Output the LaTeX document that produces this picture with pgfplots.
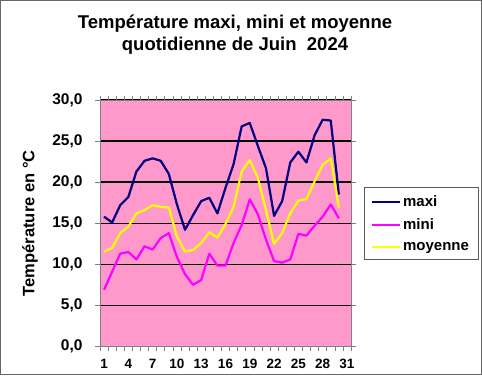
\documentclass[border=0pt]{standalone}
\usepackage{fontspec}
\setmainfont{Liberation Sans}
\usepackage{pgfplots}
\pgfplotsset{compat=1.18}
\definecolor{bgpink}{RGB}{255,153,204}
\definecolor{navy}{RGB}{0,0,128}
\definecolor{mag}{RGB}{255,0,255}
\definecolor{yel}{RGB}{255,255,0}
\definecolor{frame}{RGB}{128,128,128}
\begin{document}
\begin{tikzpicture}
\useasboundingbox (0pt,0pt) rectangle (482pt,-375pt);
\draw[frame!80!black, line width=1.2pt] (0.6pt,-0.6pt) rectangle (481.4pt,-374.4pt);
\node[align=center, font=\fontsize{18.5}{22}\selectfont\bfseries] at (235pt,-35pt) {Température maxi, mini et moyenne\\quotidienne de Juin~~2024};
\begin{axis}[
  at={(100pt,-346.5pt)}, anchor=south west,
  width=251pt, height=246.5pt, scale only axis,
  xmin=0.5, xmax=31.5, ymin=0, ymax=30,
  axis background/.style={fill=bgpink},
  axis line style={frame, line width=1pt},
  xtick={1,4,...,31},
  major x tick style={draw=none},
  minor xtick={0.5,1.5,...,31.5},
  minor tick length=4pt,
  minor x tick style={frame, line width=0.6pt},
  ytick={0,5,...,30},
  y tick style={frame, line width=1pt},
  major tick length=5pt,
  tick align=outside,
  ymajorgrids,
  major grid style={black, line width=1.4pt},
  /pgf/number format/assume math mode=true,
  yticklabel style={font=\fontsize{15.5}{18}\selectfont\bfseries, xshift=-9pt, /pgf/number format/.cd, fixed, fixed zerofill, precision=1, use comma},
  xticklabel style={font=\fontsize{13.5}{16}\selectfont\bfseries, yshift=-4pt},
  ylabel={Température en °C},
  every axis y label/.style={at={(rel axis cs:0,0.5)}, xshift=-70pt, rotate=90, anchor=center, font=\fontsize{16.5}{19}\selectfont\bfseries},
  legend style={at={(rel axis cs:1.05,0.647)}, anchor=north west, draw=frame!70!black, fill=white, line width=0.8pt,
    font=\fontsize{15}{18}\selectfont\bfseries, row sep=7pt, inner xsep=7pt, inner ysep=6pt},
  legend cell align=left,
  legend image code/.code={\draw[#1, line width=2.2pt] (0pt,0pt) -- (28pt,0pt);},
  clip=false,
]
\addplot[navy, line width=2.2pt, line join=round] coordinates {
(1,15.8)(2,15.1)(3,17.2)(4,18.2)(5,21.3)(6,22.6)(7,22.9)(8,22.6)(9,21.0)(10,17.3)
(11,14.2)(12,16.0)(13,17.7)(14,18.1)(15,16.2)(16,19.3)(17,22.2)(18,26.8)(19,27.2)(20,24.4)
(21,21.7)(22,15.9)(23,17.7)(24,22.4)(25,23.7)(26,22.4)(27,25.7)(28,27.6)(29,27.5)(30,18.5)};
\addlegendentry{maxi}
\addplot[mag, line width=2.2pt, line join=round] coordinates {
(1,6.9)(2,9.1)(3,11.3)(4,11.5)(5,10.6)(6,12.2)(7,11.8)(8,13.2)(9,13.8)(10,10.9)
(11,8.8)(12,7.5)(13,8.1)(14,11.3)(15,9.85)(16,9.85)(17,12.6)(18,14.8)(19,17.9)(20,16.1)
(21,13.0)(22,10.4)(23,10.2)(24,10.6)(25,13.7)(26,13.5)(27,14.7)(28,15.8)(29,17.3)(30,15.6)};
\addlegendentry{mini}
\addplot[yel, line width=2.2pt, line join=round] coordinates {
(1,11.55)(2,12.0)(3,13.8)(4,14.6)(5,16.2)(6,16.6)(7,17.2)(8,17.0)(9,16.9)(10,13.4)
(11,11.55)(12,11.75)(13,12.6)(14,13.9)(15,13.25)(16,14.9)(17,17.0)(18,21.3)(19,22.7)(20,20.5)
(21,16.6)(22,12.5)(23,13.8)(24,16.2)(25,17.75)(26,17.95)(27,20.1)(28,22.1)(29,22.9)(30,16.9)};
\addlegendentry{moyenne}
\end{axis}
\end{tikzpicture}
\end{document}
